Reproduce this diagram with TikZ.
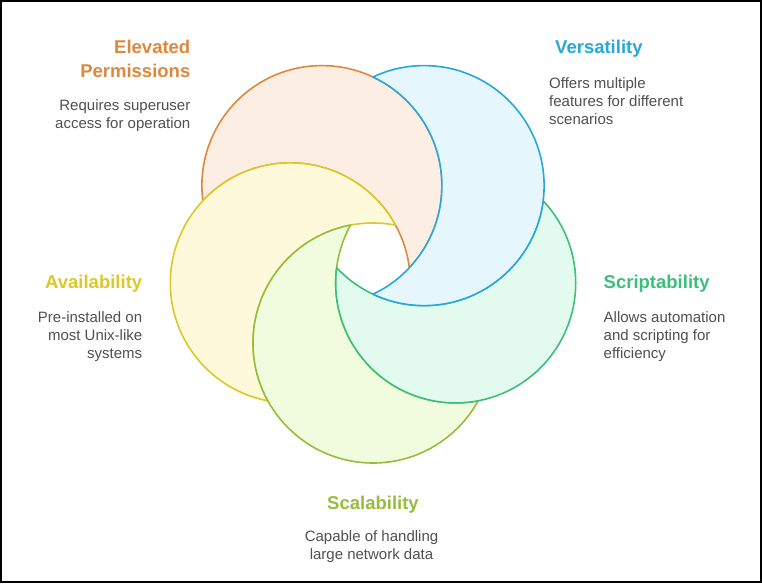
\documentclass[tikz,border=0pt]{standalone}
\usepackage{fontspec}
\setmainfont{Liberation Sans}
\begin{document}
\begin{tikzpicture}[x=1pt,y=-1pt,
  heading/.style={font=\fontsize{18.5}{23.4}\selectfont\bfseries, inner sep=0pt},
  note/.style={font=\fontsize{15}{18}\selectfont, text=notegray, inner sep=0pt},
  ring/.style={line width=1.6pt}]
\definecolor{notegray}{HTML}{505050}
\definecolor{oline}{HTML}{DE883E}
\definecolor{ofill}{HTML}{FDEEE4}
\definecolor{bline}{HTML}{28A8D8}
\definecolor{bfill}{HTML}{E5F7FD}
\definecolor{gline}{HTML}{3CBE7D}
\definecolor{gfill}{HTML}{E2FBEE}
\definecolor{lline}{HTML}{98BC3C}
\definecolor{lfill}{HTML}{F1FBDD}
\definecolor{yline}{HTML}{DCC828}
\definecolor{yfill}{HTML}{FEF9DB}

\useasboundingbox (0,0) rectangle (762,583);
\fill[white] (0,0) rectangle (762,583);
\draw[line width=2pt] (1,1) rectangle (761,582);

% ring centres: a regular pentagon around (373,256)
\coordinate (cO) at (321.9,185.6);
\coordinate (cB) at (424.1,185.6);
\coordinate (cG) at (455.7,282.9);
\coordinate (cL) at (373.0,343.0);
\coordinate (cY) at (290.3,282.9);

% one crescent: circle #1 minus circle #2, outlined in #3, filled with #4
\newcommand\crescent[4]{%
  \begin{scope}
    \clip (#1) circle[radius=120];
    \fill[#4, even odd rule] (0,0) rectangle (762,583) (#2) circle[radius=120];
    \draw[ring,#3] (#2) circle[radius=120];
  \end{scope}
  \begin{scope}[even odd rule]
    \clip (0,0) rectangle (762,583) (#2) circle[radius=120];
    \draw[ring,#3] (#1) circle[radius=120];
  \end{scope}}

\crescent{cO}{cY}{oline}{ofill}
\crescent{cY}{cL}{yline}{yfill}
\crescent{cL}{cG}{lline}{lfill}
\crescent{cG}{cB}{gline}{gfill}
\crescent{cB}{cO}{bline}{bfill}

% labels
\node[heading, text=oline, align=right, anchor=north east] (elevT) at (190.5,40.3) {Elevated\\Permissions};
\node[note, align=right, anchor=north east] (elevN) at (190.5,99) {Requires superuser\\access for operation};

\node[heading, text=bline, align=left, anchor=north west] (versT) at (555,40.3) {Versatility};
\node[note, align=left, anchor=north west] (versN) at (549,77.3) {Offers multiple\\features for different\\scenarios};

\node[heading, text=yline, align=right, anchor=north east] (availT) at (142.4,274.5) {Availability};
\node[note, align=right, anchor=north east] (availN) at (142.4,311.5) {Pre-installed on\\most Unix-like\\systems};

\node[heading, text=gline, align=left, anchor=north west] (scripT) at (603.5,274.5) {Scriptability};
\node[note, align=left, anchor=north west] (scripN) at (603.5,311.5) {Allows automation\\and scripting for\\efficiency};

\node[heading, text=lline, align=center, anchor=north] (scalT) at (373,496) {Scalability};
\node[note, align=center, anchor=north] (scalN) at (371.5,530.5) {Capable of handling\\large network data};
\end{tikzpicture}
\end{document}
